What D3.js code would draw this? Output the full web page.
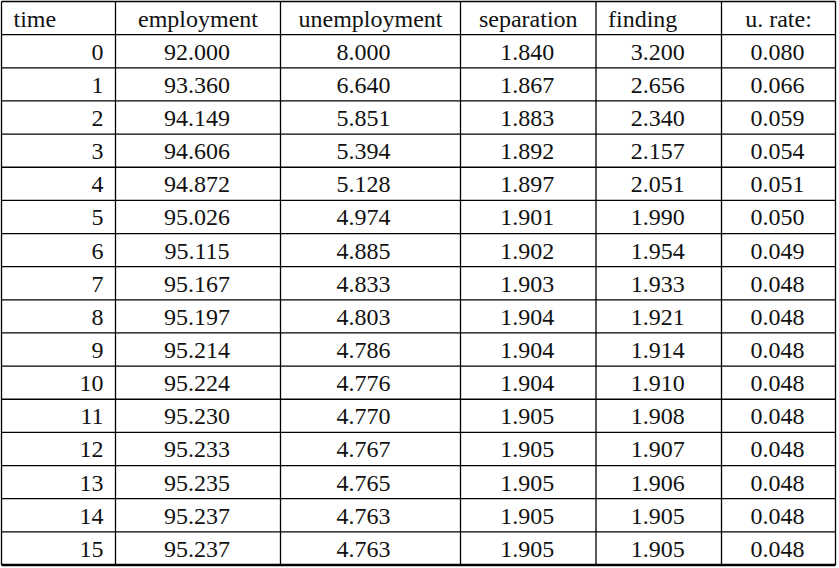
<!DOCTYPE html>
<html lang="en">
<head>
<meta charset="UTF-8">
<title>Unemployment dynamics table</title>
<script src="https://d3js.org/d3.v7.min.js"></script>
<style>
  body { margin: 0; background: #fff; }
  svg text { font-family: "Liberation Serif", "DejaVu Serif", serif; font-size: 24px; fill: #111; }
</style>
</head>
<body>
<svg width="839" height="568"></svg>
<script>
const headers = ["time", "employment", "unemployment", "separation", "finding", "u. rate:"];
const time = d3.range(0, 16);
const employment = [92.000, 93.360, 94.149, 94.606, 94.872, 95.026, 95.115, 95.167,
                    95.197, 95.214, 95.224, 95.230, 95.233, 95.235, 95.237, 95.237];
const unemployment = [8.000, 6.640, 5.851, 5.394, 5.128, 4.974, 4.885, 4.833,
                      4.803, 4.786, 4.776, 4.770, 4.767, 4.765, 4.763, 4.763];
const separation = [1.840, 1.867, 1.883, 1.892, 1.897, 1.901, 1.902, 1.903,
                    1.904, 1.904, 1.904, 1.905, 1.905, 1.905, 1.905, 1.905];
const finding = [3.200, 2.656, 2.340, 2.157, 2.051, 1.990, 1.954, 1.933,
                 1.921, 1.914, 1.910, 1.908, 1.907, 1.906, 1.905, 1.905];
const urate = [0.080, 0.066, 0.059, 0.054, 0.051, 0.050, 0.049, 0.048,
               0.048, 0.048, 0.048, 0.048, 0.048, 0.048, 0.048, 0.048];

// table layout
const edges = [1.5, 115.5, 280.5, 460.5, 596, 721.5, 835.5];
const rowKeys = ["h"].concat(time);
const y = d3.scaleBand().domain(rowKeys).range([1.5, 565]);

const svg = d3.select("svg");
const cols = headers.map((h, i) => ({ h, i, x0: edges[i], x1: edges[i + 1] }));
const fmt = d3.format(".3f");

const rows = time.map(t => [String(t), fmt(employment[t]), fmt(unemployment[t]),
  fmt(separation[t]), fmt(finding[t]), fmt(urate[t])]);

// header alignment: time and finding sit left, the rest centred
function headX(c) {
  if (c.i === 0 || c.i === 4) return c.x0 + 12;
  return (c.x0 + c.x1) / 2;
}
function headAnchor(c) { return (c.i === 0 || c.i === 4) ? "start" : "middle"; }
function cellX(c) {
  if (c.i === 0) return c.x1 - 12;
  if (c.i === 2) return (c.x0 + c.x1) / 2 - 7;
  return (c.x0 + c.x1) / 2 - 1;
}

svg.append("g").selectAll("text").data(cols).join("text")
  .attr("x", headX).attr("y", y("h") + y.bandwidth() / 2 + 1)
  .attr("dy", "0.35em").attr("text-anchor", headAnchor)
  .text(d => d.h);

const rowG = svg.append("g").selectAll("g").data(rows).join("g")
  .attr("transform", (d, i) => `translate(0,${y(time[i]) + y.bandwidth() / 2})`);

rowG.selectAll("text").data(r => r.map((v, i) => ({ v, c: cols[i] }))).join("text")
  .attr("x", d => cellX(d.c)).attr("dy", "0.35em")
  .attr("text-anchor", d => d.c.i === 0 ? "end" : "middle")
  .text(d => d.v);

// grid lines
const lines = svg.append("g").attr("stroke", "#000").attr("stroke-width", 1.3);
lines.selectAll("line.h").data(rowKeys).join("line").attr("class", "h")
  .attr("x1", edges[0]).attr("x2", edges[edges.length - 1])
  .attr("y1", d => y(d)).attr("y2", d => y(d));
lines.selectAll("line.v").data(edges).join("line").attr("class", "v")
  .attr("x1", d => d).attr("x2", d => d)
  .attr("y1", y.range()[0]).attr("y2", y.range()[1]);
lines.append("line")
  .attr("x1", edges[0]).attr("x2", edges[edges.length - 1])
  .attr("y1", y.range()[1]).attr("y2", y.range()[1])
  .attr("stroke-width", 2.4);
</script>
</body>
</html>
